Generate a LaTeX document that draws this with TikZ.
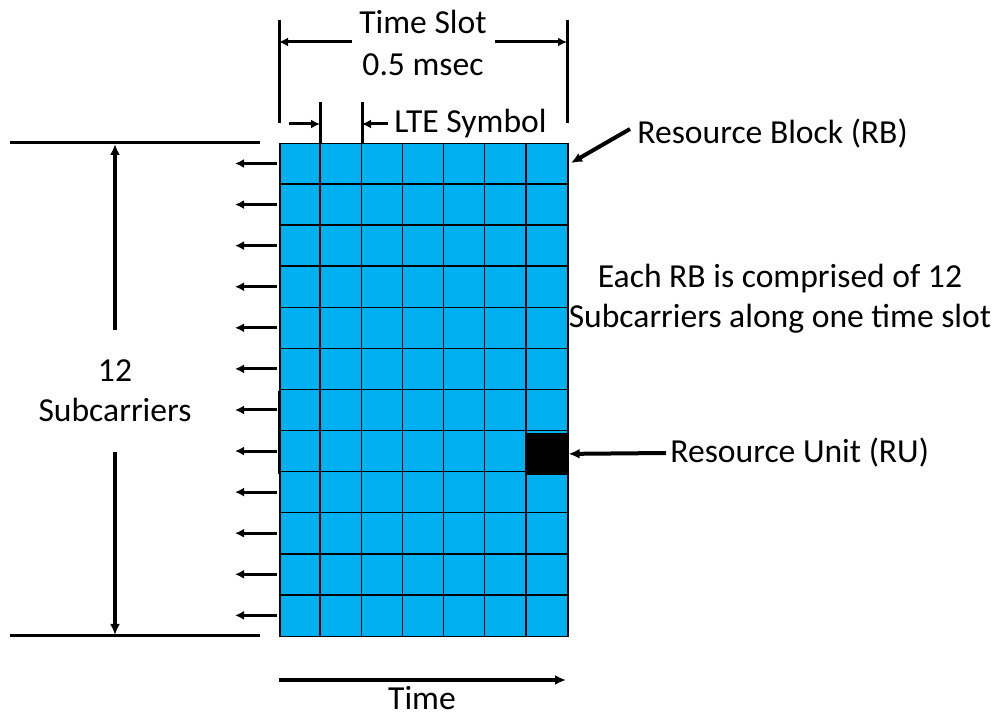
\documentclass[tikz,border=0pt]{standalone}
\usepackage{fontspec}
\setmainfont{Carlito}
\usetikzlibrary{arrows.meta}
\definecolor{rbblue}{HTML}{00B0F0}
\begin{document}
\begin{tikzpicture}[x=0.5pt,y=-0.5pt,
  font=\fontsize{16.8}{20}\selectfont,
  gridline/.style={line width=0.75pt,draw=black},
  dimline/.style={line width=1.5pt},
  heavyarrow/.style={line width=2pt,-{Latex[length=5.5pt,width=5pt]}},
  smallarrow/.style={line width=1.5pt,-{Latex[length=4.5pt,width=4.5pt]}},
  label/.style={inner sep=0pt,text=black}]
\useasboundingbox (0,0) rectangle (1002,715);

% resource block: 7 symbols x 12 subcarriers
\node[fill=rbblue,gridline,minimum width=144pt,minimum height=246.5pt,
      inner sep=0pt,anchor=north west] (rb) at (279,143) {};
\foreach \i in {1,...,6}
  \draw[gridline] (279+\i*41.14,143) -- ++(0,493);
\foreach \j in {1,...,11}
  \draw[gridline] (279,143+\j*41.08) -- ++(288,0);

% resource unit
\node[fill=black,gridline,minimum width=20.57pt,minimum height=20.54pt,
      inner sep=0pt,anchor=north west] (ru) at (526,432.6) {};
\draw[line width=1pt] (526,391.5) -- (526,432.6);
\draw[line width=1pt] (279,391.5) -- (279,474);

% subcarrier arrows
\foreach \j in {0,...,11}{
  \coordinate (s\j) at (277,163.5+\j*41.08);
  \coordinate (t\j) at (235,163.5+\j*41.08);
  \draw[smallarrow] (s\j) -- (t\j);
}

% 12 subcarriers dimension
\coordinate (ltop) at (10,143);
\coordinate (rtop) at (260,143);
\coordinate (lbot) at (10,636);
\coordinate (rbot) at (260,636);
\draw[dimline] (ltop) -- (rtop);
\draw[dimline] (lbot) -- (rbot);
\node[label,align=center] (sub) at (115,391) {12\\Subcarriers};
\coordinate (subup) at (115,330);
\coordinate (subdn) at (115,452);
\coordinate (subtop) at (115,144);
\coordinate (subbot) at (115,635);
\draw[heavyarrow] (subup) -- (subtop);
\draw[heavyarrow] (subdn) -- (subbot);

% time slot dimension
\node[label,align=center,font=\fontsize{16.8}{21}\selectfont] (ts) at (423,43) {Time Slot\\0.5 msec};
\coordinate (tsl) at (279,42);
\coordinate (tsr) at (567,42);
\coordinate (tsla) at (352,42);
\coordinate (tsra) at (495,42);
\draw[dimline] (279,20) -- (279,123);
\draw[dimline] (567,20) -- (567,123);
\draw[smallarrow] (tsla) -- (tsl);
\draw[smallarrow] (tsra) -- (tsr);

% LTE symbol dimension
\draw[dimline] (320,102) -- (320,143);
\draw[dimline] (362,102) -- (362,143);
\coordinate (lsa) at (289,124);
\coordinate (lsb) at (320,124);
\coordinate (lsc) at (388,124);
\coordinate (lsd) at (362,124);
\draw[smallarrow] (lsa) -- (lsb);
\draw[smallarrow] (lsc) -- (lsd);
\node[label,anchor=west] (lte) at (394,124) {LTE Symbol};

% resource block label
\node[label,anchor=west] (rbl) at (637,134) {Resource Block (RB)};
\coordinate (rbtip) at (571,163);
\draw[heavyarrow] (630,129) -- (rbtip);

% description
\node[label,align=center] (desc) at (780,299) {Each RB is comprised of 12\\Subcarriers along one time slot};

% resource unit label
\node[label,anchor=west] (rul) at (670,453) {Resource Unit (RU)};
\draw[heavyarrow] (rul.west) ++(-4,0) coordinate (rus) -- (ru.east);

% time axis
\coordinate (ta) at (279,680);
\coordinate (tb) at (566,680);
\draw[heavyarrow] (ta) -- (tb);
\node[label] (time) at (422,698) {Time};
\end{tikzpicture}
\end{document}
